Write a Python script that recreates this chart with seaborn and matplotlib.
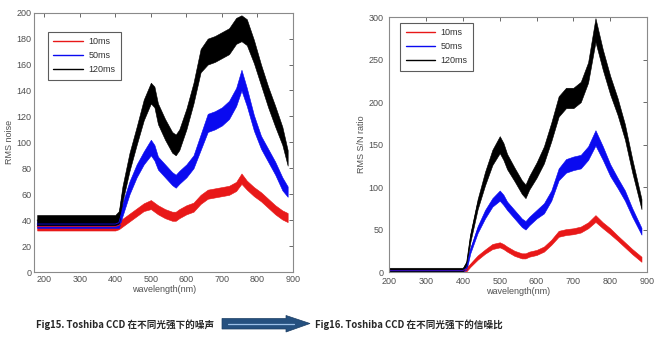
import matplotlib
matplotlib.use("Agg")
import matplotlib.pyplot as plt
import numpy as np
import pandas as pd
import seaborn as sns
from matplotlib.patches import Polygon

sns.set_theme(style="white")
plt.rcParams['font.family'] = ['Liberation Sans Narrow', 'Liberation Sans', 'DejaVu Sans']

# ---------------- data ----------------
exposures = ["10ms", "50ms", "120ms"]
colors = ["#e81818", "#0a0af0", "#000000"]

# Fig15: RMS noise (band centre and half-width of the noise envelope)
noise_wl = [180, 200, 250, 300, 350, 400, 410, 420, 440, 460, 480, 500, 510, 520,
            540, 560, 570, 580, 600, 620, 640, 660, 680, 700, 720, 740, 755, 770,
            790, 810, 830, 850, 870, 885]
noise_10 = [35, 35, 35, 35, 35, 35, 36, 38, 42, 46, 50, 52, 50, 48,
            45, 43, 43, 45, 48, 50, 56, 60, 61, 62, 63, 66, 72, 67,
            62, 58, 53, 48, 44, 42]
noise_10_sp = [3, 3, 3, 3, 3, 3, 3, 3, 3, 3, 3, 3.5, 3.5, 3.5,
               3.5, 3.5, 3.5, 3.5, 3.5, 3.5, 3.5, 3.5, 3.5, 3.5, 3.5, 3.5, 4, 3.5,
               3.5, 3.5, 3.5, 3.5, 3.5, 3.5]
noise_50 = [37, 37, 37, 37, 37, 37, 38, 48, 65, 78, 88, 96, 92, 84,
            78, 72, 70, 73, 78, 85, 100, 115, 117, 120, 125, 135, 148, 135,
            115, 100, 90, 80, 68, 62]
noise_50_sp = [3, 3, 3, 3, 3, 3, 4, 5, 5, 5, 5, 6, 6, 5,
               5, 5, 5, 5, 5, 5, 6, 7, 7, 7, 7, 7, 8, 7,
               6, 5, 5, 5, 5, 4]
noise_120 = [40, 40, 40, 40, 40, 40, 42, 60, 85, 105, 125, 138, 135, 122,
             110, 100, 98, 102, 118, 138, 163, 170, 172, 175, 178, 186, 188, 185,
             170, 152, 135, 120, 105, 88]
noise_120_sp = [4, 4, 4, 4, 4, 4, 5, 6, 7, 7, 8, 8, 8, 8,
                8, 8, 8, 8, 8, 8, 9, 10, 10, 10, 10, 10, 10, 10,
                9, 8, 8, 8, 7, 6]

# Fig16: RMS S/N ratio
snr_wl = [200, 250, 300, 350, 400, 410, 420, 440, 460, 480, 500, 510, 520, 540,
          560, 570, 580, 600, 620, 640, 660, 680, 700, 720, 740, 760, 780, 800,
          820, 840, 860, 885]
snr_10 = [2, 2, 2, 2, 2, 3, 8, 17, 24, 30, 32, 30, 27, 22,
          19, 19, 21, 23, 27, 35, 45, 47, 48, 50, 55, 63, 55, 48,
          40, 32, 24, 15]
snr_10_sp = [1.5, 1.5, 1.5, 1.5, 1.5, 2, 2, 2.5, 2.5, 3, 3, 3, 3, 3,
             3, 3, 3, 3, 3, 3, 3.5, 3.5, 3.5, 3.5, 3.5, 4, 3.5, 3.5,
             3, 3, 3, 3]
snr_50 = [2, 2, 2, 2, 2, 5, 25, 50, 68, 82, 90, 85, 78, 68,
          58, 55, 60, 68, 75, 90, 115, 125, 128, 130, 140, 158, 140, 120,
          105, 90, 70, 48]
snr_50_sp = [1.5, 1.5, 1.5, 1.5, 1.5, 2, 3, 4, 5, 5, 6, 6, 5, 5,
             5, 5, 5, 5, 6, 6, 7, 8, 8, 8, 8, 9, 8, 7,
             6, 6, 5, 4]
snr_120 = [3, 3, 3, 3, 3, 10, 40, 80, 110, 135, 150, 142, 130, 115,
           100, 95, 105, 120, 138, 165, 195, 205, 205, 212, 235, 285, 250, 220,
           195, 165, 125, 80]
snr_120_sp = [2, 2, 2, 2, 2, 3, 5, 6, 8, 9, 10, 10, 9, 8,
              8, 8, 8, 9, 10, 11, 12, 12, 12, 12, 12, 14, 12, 11,
              10, 9, 8, 6]


def envelope_frame(wl, series):
    """Long-form table with the lower and upper edge of each noisy trace."""
    rows = []
    for name, mid, spread in series:
        for w, m, s in zip(wl, mid, spread):
            rows.append((w, m - s, name))
            rows.append((w, m + s, name))
    return pd.DataFrame(rows, columns=["wavelength", "value", "exposure"])


noise_df = envelope_frame(noise_wl, [("10ms", noise_10, noise_10_sp),
                                     ("50ms", noise_50, noise_50_sp),
                                     ("120ms", noise_120, noise_120_sp)])
snr_df = envelope_frame(snr_wl, [("10ms", snr_10, snr_10_sp),
                                 ("50ms", snr_50, snr_50_sp),
                                 ("120ms", snr_120, snr_120_sp)])

# ---------------- figure ----------------
W, H = 664, 342
fig = plt.figure(figsize=(W / 100, H / 100), dpi=100)


def px_axes(x0, y0, x1, y1):
    return fig.add_axes([x0 / W, 1 - y1 / H, (x1 - x0) / W, (y1 - y0) / H])


ax1 = px_axes(34.3, 12.7, 293, 272)
ax2 = px_axes(389.3, 17.3, 647, 272)

tick_col = "#505050"
for ax, df, xlim, ylim, yticks, ylabel, leg_anchor in [
    (ax1, noise_df, (172, 900), (0, 200), np.arange(0, 201, 20), "RMS noise", (0.053, 0.926)),
    (ax2, snr_df, (200, 900), (0, 300), np.arange(0, 301, 50), "RMS S/N ratio", (0.042, 0.978)),
]:
    sns.lineplot(data=df, x="wavelength", y="value", hue="exposure",
                 hue_order=exposures, palette=colors, estimator="mean",
                 errorbar=("pi", 100), err_kws={"alpha": 1, "linewidth": 0.4},
                 linewidth=0.6, ax=ax)
    ax.set_xlim(*xlim)
    ax.set_ylim(*ylim)
    ax.set_xticks(np.arange(200, 901, 100))
    ax.set_yticks(yticks)
    ax.set_xlabel("wavelength(nm)", fontsize=6.5, color=tick_col, labelpad=1)
    ax.set_ylabel(ylabel, fontsize=6.5, color=tick_col, labelpad=2)
    ax.tick_params(direction="in", length=3, width=0.6, labelsize=6.5,
                   colors=tick_col, top=True, right=True, pad=2)
    for sp in ax.spines.values():
        sp.set_color("#8a8a8a")
        sp.set_linewidth(0.8)
    handles, labels = ax.get_legend_handles_labels()
    for h in handles:
        h.set_linewidth(1.0)
    leg = ax.legend(handles, labels, loc="upper left", bbox_to_anchor=leg_anchor,
                    borderaxespad=0, fontsize=6.5, frameon=True, fancybox=False,
                    handlelength=3.3, handletextpad=0.6, labelspacing=0.55,
                    borderpad=0.6)
    leg.get_frame().set_edgecolor("#333333")
    leg.get_frame().set_linewidth(0.8)
    for t in leg.get_texts():
        t.set_color("#333333")

# the "0" of the S/N axis sits just left of the first wavelength label
ax2.tick_params(axis="y", pad=4)
ax2.tick_params(axis="x", pad=3.5)

# ---------------- captions and arrow ----------------
cap_font = ["Liberation Sans Narrow", "Noto Sans CJK SC"]
fig.text(36 / W, 1 - 325 / H, "Fig15. Toshiba CCD 在不同光强下的噪声",
         ha="left", va="center", fontsize=6.9, weight="bold", family=cap_font)
fig.text(315 / W, 1 - 325 / H, "Fig16. Toshiba CCD 在不同光强下的信噪比",
         ha="left", va="center", fontsize=6.9, weight="bold", family=cap_font)

arrow_px = [(222, 318.5), (286, 318.5), (286, 315.5), (310, 323.5),
            (286, 332), (286, 329), (222, 329)]
arrow = Polygon([(x / W, 1 - y / H) for x, y in arrow_px], closed=True,
                transform=fig.transFigure, facecolor="#25507f",
                edgecolor="#1b3d63", linewidth=0.5)
fig.add_artist(arrow)
fig.add_artist(plt.Line2D([228 / W, 294 / W], [1 - 323.5 / H, 1 - 323.5 / H],
                          transform=fig.transFigure, color="#9cc0e8", linewidth=0.9))

fig.savefig("out.png", dpi=100)
